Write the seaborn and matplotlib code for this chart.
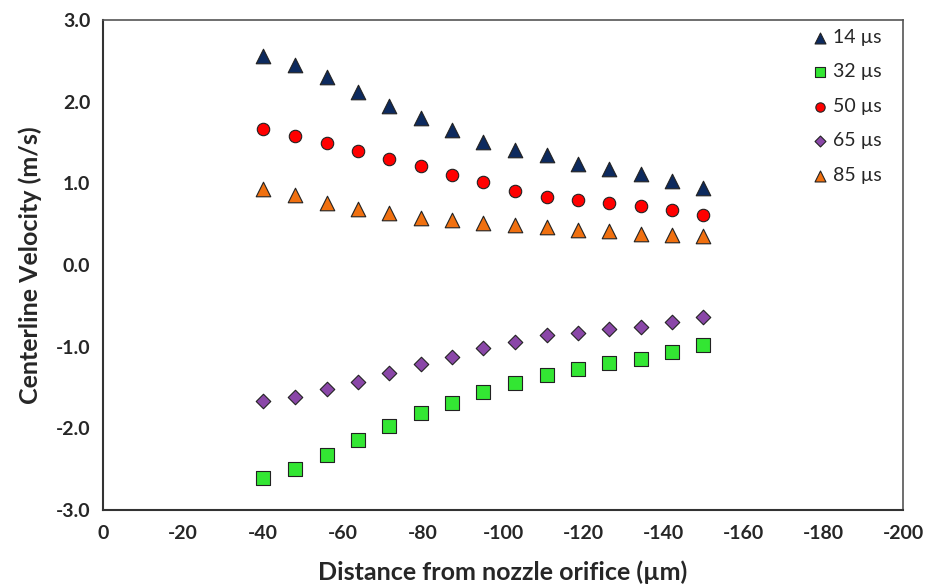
import pandas as pd
import matplotlib
matplotlib.use("Agg")
import matplotlib.pyplot as plt
import seaborn as sns

# distance from nozzle orifice (um)
distance = [-40, -48, -55.9, -63.8, -71.6, -79.4, -87.3, -95.1,
            -103, -110.9, -118.7, -126.6, -134.4, -142.2, -150]

v14 = [2.56, 2.45, 2.30, 2.12, 1.95, 1.80, 1.65, 1.51,
       1.41, 1.34, 1.24, 1.18, 1.11, 1.03, 0.94]
v32 = [-2.61, -2.50, -2.33, -2.14, -1.97, -1.82, -1.69, -1.56,
       -1.45, -1.35, -1.28, -1.20, -1.15, -1.07, -0.98]
v50 = [1.66, 1.58, 1.49, 1.39, 1.30, 1.21, 1.10, 1.01,
       0.91, 0.835, 0.80, 0.76, 0.725, 0.67, 0.615]
v65 = [-1.67, -1.615, -1.52, -1.43, -1.33, -1.22, -1.13, -1.02,
       -0.94, -0.865, -0.83, -0.79, -0.755, -0.70, -0.64]
v85 = [0.925, 0.85, 0.76, 0.68, 0.63, 0.57, 0.55, 0.51,
       0.49, 0.46, 0.43, 0.41, 0.38, 0.36, 0.35]

labels = ["14 µs", "32 µs", "50 µs", "65 µs", "85 µs"]
series = [v14, v32, v50, v65, v85]
colors = ["#0D2A5E", "#33E633", "#FF0000", "#8A47A8", "#F07010"]
markers = ["^", "s", "o", "D", "^"]
sizes = [110, 95, 80, 55, 110]

sns.set_style("white")
plt.rcParams['font.family'] = ['Lato', 'DejaVu Sans']
plt.rcParams['axes.unicode_minus'] = False

fig = plt.figure(figsize=(9.35, 5.86), dpi=100)
ax = fig.add_axes([0.110, 0.130, 0.856, 0.836])

for lab, vals, col, mk, sz in zip(labels, series, colors, markers, sizes):
    df = pd.DataFrame({"Distance": distance, "Velocity": vals})
    sns.scatterplot(data=df, x="Distance", y="Velocity", ax=ax,
                    color=col, marker=mk, s=sz, edgecolor="#222222",
                    linewidth=0.8, label=lab, zorder=3)

ax.set_xlim(0, -200)
ax.set_ylim(-3, 3)
ax.set_xticks(range(0, -201, -20))
ax.set_yticks([-3, -2, -1, 0, 1, 2, 3])
ax.set_yticklabels([f"{v:.1f}" for v in [-3, -2, -1, 0, 1, 2, 3]])

for side in ["left", "bottom"]:
    ax.spines[side].set_color("#333333")
    ax.spines[side].set_linewidth(1.5)
for side in ["top", "right"]:
    ax.spines[side].set_color("#555555")
    ax.spines[side].set_linewidth(1.2)

ax.tick_params(axis="both", direction="out", length=5, width=1.3,
               color="#333333", labelsize=14, pad=4)
ax.tick_params(axis="x", pad=6)
for t in ax.get_xticklabels() + ax.get_yticklabels():
    t.set_fontweight("bold")

ax.set_xlabel("Distance from nozzle orifice (µm)", fontsize=18,
              fontweight="bold", labelpad=13)
ax.set_ylabel("Centerline Velocity (m/s)", fontsize=18,
              fontweight="bold", labelpad=10)

leg = ax.legend(loc="upper right", bbox_to_anchor=(0.99, 1.01),
                frameon=False, fontsize=14, labelspacing=0.9,
                handlelength=1.0, handletextpad=0.15, markerscale=0.75,
                borderaxespad=0.3)

fig.savefig("out.png", dpi=100)
